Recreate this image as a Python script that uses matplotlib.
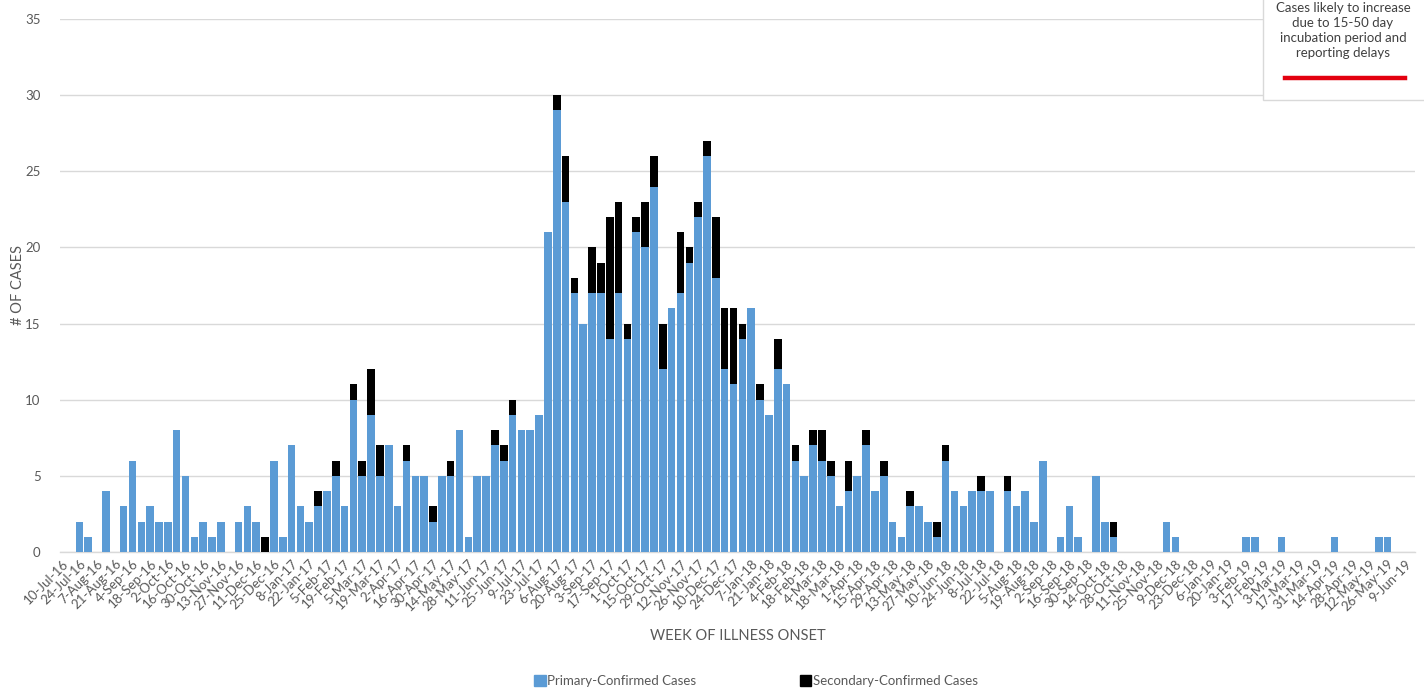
import matplotlib
matplotlib.use("Agg")
import matplotlib.pyplot as plt
from matplotlib.patches import Rectangle
from matplotlib.lines import Line2D
import numpy as np

# ---------------- DATA ----------------
tick_labels = [
    "10-Jul-16", "24-Jul-16", "7-Aug-16", "21-Aug-16", "4-Sep-16", "18-Sep-16", "2-Oct-16",
    "16-Oct-16", "30-Oct-16", "13-Nov-16", "27-Nov-16", "11-Dec-16", "25-Dec-16", "8-Jan-17",
    "22-Jan-17", "5-Feb-17", "19-Feb-17", "5-Mar-17", "19-Mar-17", "2-Apr-17", "16-Apr-17",
    "30-Apr-17", "14-May-17", "28-May-17", "11-Jun-17", "25-Jun-17", "9-Jul-17", "23-Jul-17",
    "6-Aug-17", "20-Aug-17", "3-Sep-17", "17-Sep-17", "1-Oct-17", "15-Oct-17", "29-Oct-17",
    "12-Nov-17", "26-Nov-17", "10-Dec-17", "24-Dec-17", "7-Jan-18", "21-Jan-18", "4-Feb-18",
    "18-Feb-18", "4-Mar-18", "18-Mar-18", "1-Apr-18", "15-Apr-18", "29-Apr-18", "13-May-18",
    "27-May-18", "10-Jun-18", "24-Jun-18", "8-Jul-18", "22-Jul-18", "5-Aug-18", "19-Aug-18",
    "2-Sep-18", "16-Sep-18", "30-Sep-18", "14-Oct-18", "28-Oct-18", "11-Nov-18", "25-Nov-18",
    "9-Dec-18", "23-Dec-18", "6-Jan-19", "20-Jan-19", "3-Feb-19", "17-Feb-19", "3-Mar-19",
    "17-Mar-19", "31-Mar-19", "14-Apr-19", "28-Apr-19", "12-May-19", "26-May-19", "9-Jun-19",
]

# weekly counts, one value per week (153 weeks)
primary = [
    0, 0, 2, 1, 0, 4, 0, 3, 6, 2, 3, 2, 2, 8, 5, 1, 2, 1, 2, 0,
    2, 3, 2, 0, 6, 1, 7, 3, 2, 3, 4, 5, 3, 10, 5, 9, 5, 7, 3, 6,
    5, 5, 2, 5, 5, 8, 1, 5, 5, 7, 6, 9, 8, 8, 9, 21, 29, 23, 17, 15,
    17, 17, 14, 17, 14, 21, 20, 24, 12, 16, 17, 19, 22, 26, 18, 12, 11, 14, 16, 10,
    9, 12, 11, 6, 5, 7, 6, 5, 3, 4, 5, 7, 4, 5, 2, 1, 3, 3, 2, 1,
    6, 4, 3, 4, 4, 4, 0, 4, 3, 4, 2, 6, 0, 1, 3, 1, 0, 5, 2, 1,
    0, 0, 0, 0, 0, 2, 1, 0, 0, 0, 0, 0, 0, 0, 1, 1, 0, 0, 1, 0,
    0, 0, 0, 0, 1, 0, 0, 0, 0, 1, 1, 0, 0,
]
secondary = [
    0, 0, 0, 0, 0, 0, 0, 0, 0, 0, 0, 0, 0, 0, 0, 0, 0, 0, 0, 0,
    0, 0, 0, 1, 0, 0, 0, 0, 0, 1, 0, 1, 0, 1, 1, 3, 2, 0, 0, 1,
    0, 0, 1, 0, 1, 0, 0, 0, 0, 1, 1, 1, 0, 0, 0, 0, 1, 3, 1, 0,
    3, 2, 8, 6, 1, 1, 3, 2, 3, 0, 4, 1, 1, 1, 4, 4, 5, 1, 0, 1,
    0, 2, 0, 1, 0, 1, 2, 1, 0, 2, 0, 1, 0, 1, 0, 0, 1, 0, 0, 1,
    1, 0, 0, 0, 1, 0, 0, 1, 0, 0, 0, 0, 0, 0, 0, 0, 0, 0, 0, 1,
    0, 0, 0, 0, 0, 0, 0, 0, 0, 0, 0, 0, 0, 0, 0, 0, 0, 0, 0, 0,
    0, 0, 0, 0, 0, 0, 0, 0, 0, 0, 0, 0, 0,
]
series_names = ["Primary-Confirmed Cases", "Secondary-Confirmed Cases"]
note_lines = ["Cases likely to increase", "due to 15-50 day",
              "incubation period and", "reporting delays"]

# ---------------- STYLE ----------------
W, H = 1424, 689
BLUE = "#5B9BD5"
BLACK = "#000000"
GRID = "#D9D9D9"
TXT = "#595959"
plt.rcParams["font.family"] = ["Lato", "DejaVu Sans"]

fig = plt.figure(figsize=(W / 100, H / 100), dpi=100)
fig.patch.set_facecolor("white")


def fx(px):
    return px / W


def fy(py):
    return 1 - py / H


ax = fig.add_axes([fx(60), fy(552), fx(1415) - fx(60), fy(19) - fy(552)])
x = np.arange(len(primary))
prim = np.array(primary)
sec = np.array(secondary)

ax.bar(x, prim, width=0.86, color=BLUE, zorder=3, linewidth=0)
ax.bar(x, sec, width=0.86, bottom=prim, color=BLACK, zorder=3, linewidth=0)

ax.set_xlim(-0.2, 153.1)
ax.set_ylim(0, 35)
ax.set_yticks(np.arange(0, 36, 5))
ax.yaxis.grid(True, color=GRID, linewidth=1.0, zorder=0)
ax.set_axisbelow(True)
for s in ["top", "right", "left"]:
    ax.spines[s].set_visible(False)
ax.spines["bottom"].set_color(GRID)
ax.spines["bottom"].set_linewidth(1.0)

ax.set_xticks(np.arange(0, len(primary), 2))
ax.set_xticklabels(tick_labels, rotation=45, ha="right", va="top",
                   rotation_mode="anchor", fontsize=9.5, color=TXT)
ax.tick_params(axis="x", length=0, pad=4)
ax.tick_params(axis="y", length=0, pad=14, labelsize=9.5, labelcolor=TXT)

fig.text(fx(18), fy(285), "# OF CASES", rotation=90, ha="center", va="center",
         fontsize=10.5, color=TXT)
fig.text(fx(738), fy(636), "WEEK OF ILLNESS ONSET", ha="center", va="center",
         fontsize=10.5, color=TXT)

# legend
handles = [Rectangle((0, 0), 1, 1, facecolor=BLUE, edgecolor=BLUE),
           Rectangle((0, 0), 1, 1, facecolor=BLACK, edgecolor=BLACK)]
fig.legend(handles, series_names, loc="center", bbox_to_anchor=(fx(756), fy(681)),
           ncol=2, frameon=False, fontsize=9.5, labelcolor=TXT,
           handlelength=0.9, handleheight=0.9, handletextpad=0.15,
           columnspacing=7.8, borderaxespad=0)

# note box top-right
box = Rectangle((fx(1263), fy(100)), fx(1430) - fx(1263), fy(-30) - fy(100),
                transform=fig.transFigure, facecolor="white", edgecolor=GRID,
                linewidth=1.0, zorder=10, clip_on=False)
fig.add_artist(box)
for yy, line in zip([8, 23, 38, 53], note_lines):
    fig.text(fx(1343), fy(yy), line, ha="center", va="center", fontsize=9.5,
             color="#404040", zorder=11)
fig.add_artist(Line2D([fx(1285), fx(1405)], [fy(78), fy(78)], transform=fig.transFigure,
                      color="#E3000F", linewidth=3.2, zorder=11))

fig.savefig("out.png", dpi=100, facecolor="white")
